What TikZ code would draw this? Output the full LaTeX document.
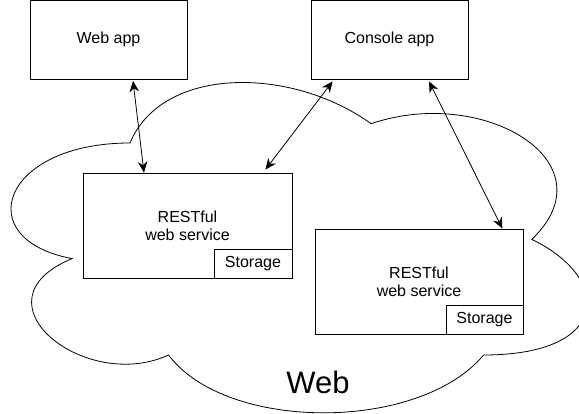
\documentclass[tikz,border=0pt]{standalone}
\usepackage{fontspec}
\setmainfont{Liberation Sans}
\usetikzlibrary{arrows.meta}

\begin{document}
\begin{tikzpicture}[x=1pt, y=-1pt, line width=0.8pt,
    box/.style={draw, fill=white, inner sep=0pt, font=\fontsize{16}{18}\selectfont},
    link/.style={>={Stealth[length=11pt, width=9.5pt, inset=3.5pt]}, <->}]
  \useasboundingbox (0, 0) rectangle (579, 414);
  \clip (0, 0) rectangle (579, 414);

  \draw (130, 143) .. controls (1.4, 143) and (-30.8, 239.4) .. (72.1, 258.6)
    .. controls (-30.8, 301) and (84.9, 393.6) .. (168.5, 355)
    .. controls (226.4, 432.1) and (419.3, 432.1) .. (483.6, 355)
    .. controls (612.2, 355) and (612.2, 277.9) .. (531.8, 239.4)
    .. controls (612.2, 162.3) and (483.6, 85.2) .. (371.1, 123.7)
    .. controls (290.7, 65.9) and (162.1, 65.9) .. (130, 143) -- cycle;
  \node [anchor=base, font=\fontsize{31}{36}\selectfont] (web) at (318, 394) {Web};

  \node [box, minimum width=157pt, minimum height=78.5pt] (webapp) at (108.5, 39.75) {Web app};
  \node [box, minimum width=157pt, minimum height=78.5pt] (console) at (389.5, 39.75) {Console app};

  \node [box, align=center, minimum width=209pt, minimum height=105pt] (rest1) at (187.5, 225.5) {RESTful\\web service};
  \node [box, anchor=south east, minimum width=78pt, minimum height=29pt] (store1) at (rest1.south east) {Storage};

  \node [box, align=center, minimum width=208pt, minimum height=105pt] (rest2) at (419, 281.5) {RESTful\\web service};
  \node [box, anchor=south east, minimum width=77pt, minimum height=29pt] (store2) at (rest2.south east) {Storage};

  \draw [link] ([xshift=24.5pt, yshift=-1.5pt]webapp.south) to ([xshift=-43.5pt]rest1.north);
  \draw [link] ([xshift=-27pt, yshift=3pt]rest1.north east) to ([xshift=22pt, yshift=-2pt]console.south west);
  \draw [link] ([xshift=39.5pt, yshift=-2pt]console.south) to ([xshift=-21pt]rest2.north east);

\end{tikzpicture}
\end{document}
